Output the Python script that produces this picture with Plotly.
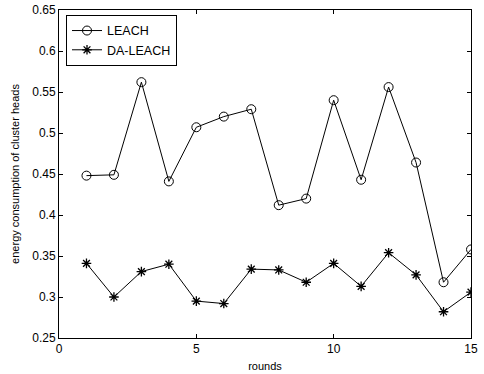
import plotly.graph_objects as go

rounds = list(range(1, 16))
leach = [0.448, 0.449, 0.562, 0.441, 0.507, 0.520, 0.529, 0.412, 0.420, 0.540, 0.443, 0.556, 0.464, 0.318, 0.358]
da_leach = [0.341, 0.300, 0.331, 0.340, 0.295, 0.292, 0.334, 0.333, 0.318, 0.341, 0.313, 0.354, 0.327, 0.282, 0.306]
x_ticks = [0, 5, 10, 15]
y_ticks = [0.25, 0.3, 0.35, 0.4, 0.45, 0.5, 0.55, 0.6, 0.65]

fig = go.Figure()
fig.add_trace(go.Scatter(x=rounds, y=leach, name="LEACH", mode="lines+markers",
                         line=dict(color="black", width=1),
                         marker=dict(symbol="circle-open", size=9, color="black", line=dict(width=1))))
fig.add_trace(go.Scatter(x=rounds, y=da_leach, name="DA-LEACH", mode="lines+markers",
                         line=dict(color="black", width=1),
                         marker=dict(symbol="asterisk-open", size=8, color="black", line=dict(width=1.3))))

axis_common = dict(showline=True, linecolor="black", linewidth=1, mirror="ticks",
                   ticks="inside", ticklen=4, tickcolor="black", showgrid=False, zeroline=False,
                   automargin=False,
                   tickfont=dict(family="Liberation Sans, Arial", size=12, color="black"))
fig.update_layout(
    width=484, height=374,
    margin=dict(l=59, r=13, t=10, b=36, autoexpand=False),
    paper_bgcolor="white", plot_bgcolor="white",
    font=dict(family="Liberation Sans, Arial", color="black"),
    xaxis=dict(range=[0, 15], tickvals=x_ticks, **axis_common, ticklabeloverflow="allow",
               title=dict(text="rounds", font=dict(size=11), standoff=6)),
    yaxis=dict(range=[0.25, 0.65], tickvals=y_ticks, ticktext=[f"{v:g}" for v in y_ticks], **axis_common,
               title=dict(text="energy consumption of cluster heads", font=dict(size=11), standoff=10)),
    legend=dict(x=0.017, y=0.985, xanchor="left", yanchor="top", bordercolor="black", borderwidth=1,
                bgcolor="white", font=dict(size=12.5), tracegroupgap=0, itemwidth=30),
    showlegend=True,
)
fig.write_html("out.html", config={"displayModeBar": False},
               post_script="document.body.style.margin='0';document.body.style.overflow='hidden';")
